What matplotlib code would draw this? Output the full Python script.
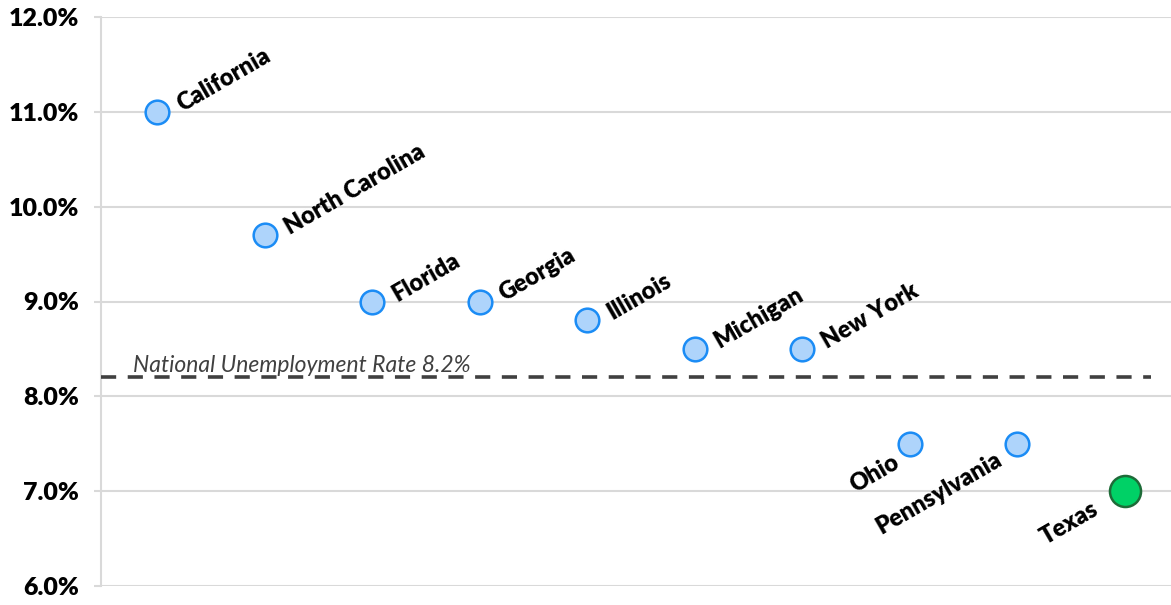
import matplotlib
matplotlib.use("Agg")
import matplotlib.pyplot as plt
from matplotlib.ticker import FuncFormatter

states = ["California", "North Carolina", "Florida", "Georgia", "Illinois",
          "Michigan", "New York", "Ohio", "Pennsylvania", "Texas"]
rates = [11.0, 9.7, 9.0, 9.0, 8.8, 8.5, 8.5, 7.5, 7.5, 7.0]
national_rate = 8.2
national_label = "National Unemployment Rate 8.2%"
yticks = [6.0, 7.0, 8.0, 9.0, 10.0, 11.0, 12.0]
label_below = ["Ohio", "Pennsylvania", "Texas"]
highlight = "Texas"

plt.rcParams['font.family'] = ['Lato', 'DejaVu Sans']

fig = plt.figure(figsize=(11.71, 6.05), dpi=100)
ax = fig.add_axes([101/1171, 19/605, 1 - 101/1171, (586-17)/605])

below_offsets = {"Ohio": (-13, -5), "Pennsylvania": (-16, -3), "Texas": (-24, -5)}

xs = list(range(len(states)))
for x, s, r in zip(xs, states, rates):
    if s == highlight:
        ax.scatter([x], [r], s=500, facecolor="#00d166", edgecolor="#1e6b38",
                   linewidth=1.8, zorder=4)
    else:
        ax.scatter([x], [r], s=290, facecolor="#aed4fb", edgecolor="#1b8cf5",
                   linewidth=1.8, zorder=4)
    if s in label_below:
        ax.annotate(s, (x, r), xytext=below_offsets[s], textcoords="offset points",
                    rotation=30, rotation_mode="anchor", ha="right", va="top",
                    fontsize=17, fontweight="heavy", color="black", zorder=5)
    else:
        ax.annotate(s, (x, r), xytext=(18, 0), textcoords="offset points",
                    rotation=30, rotation_mode="anchor", ha="left", va="baseline",
                    fontsize=17, fontweight="heavy", color="black", zorder=5)

ax.plot([-0.52, 9.24], [national_rate, national_rate], color="#404040",
        linestyle=(0, (4.2, 3.2)), linewidth=2.6, zorder=3, solid_capstyle="butt",
        dash_capstyle="butt")
ax.text(-0.22, national_rate + 0.01, national_label, fontsize=16.5, style="italic",
        color="#404040", ha="left", va="bottom")

ax.set_xlim(-0.521, 9.43)
ax.set_ylim(6.0, 12.0)
ax.set_yticks(yticks)
ax.yaxis.set_major_formatter(FuncFormatter(lambda v, p: f"{v:.1f}%"))
ax.set_xticks([])
ax.grid(axis="y", color="#d9d9d9", linewidth=1.5)
ax.set_axisbelow(True)
for sp in ["top", "right", "bottom"]:
    ax.spines[sp].set_visible(False)
ax.spines["left"].set_color("#d9d9d9")
ax.spines["left"].set_linewidth(1.5)
ax.tick_params(axis="y", length=5, width=1.5, color="#d9d9d9", pad=11,
               labelsize=18)
for lab in ax.get_yticklabels():
    lab.set_fontweight("heavy")

fig.savefig("out.png", dpi=100)
